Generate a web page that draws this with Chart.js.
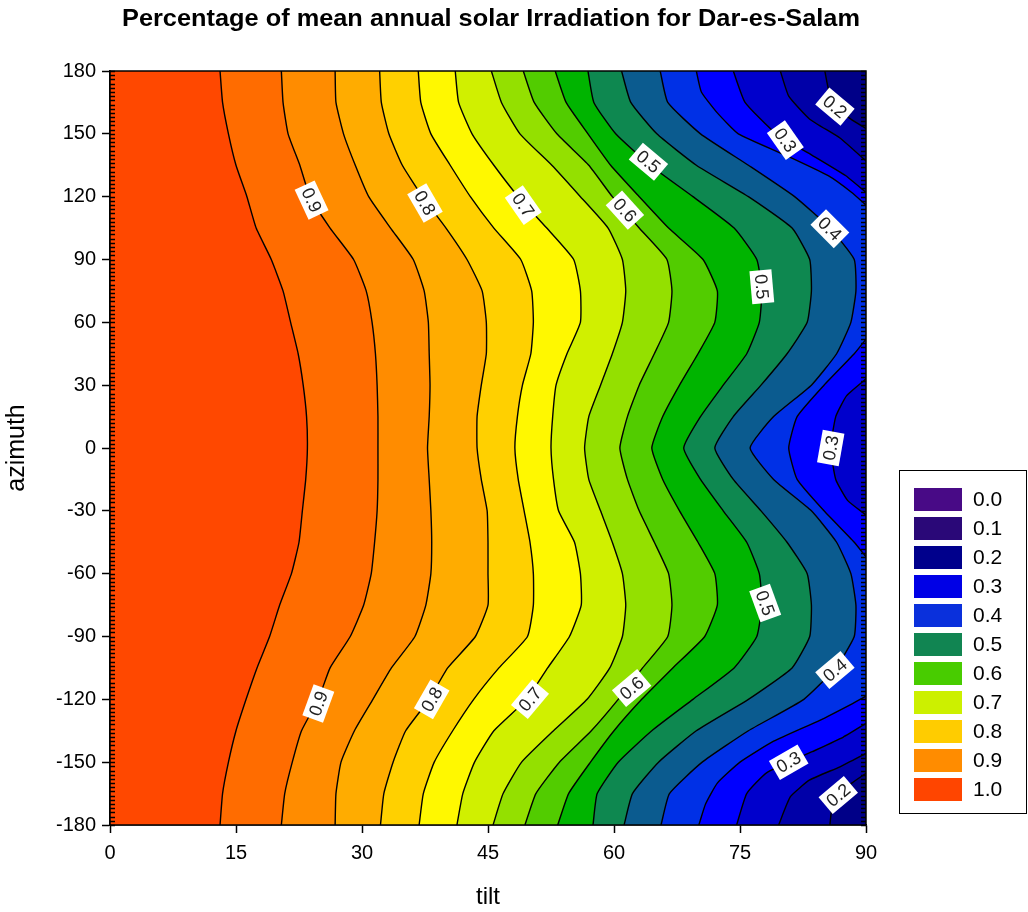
<!DOCTYPE html>
<html><head><meta charset="utf-8">
<script src="https://cdn.jsdelivr.net/npm/chart.js@4.4.1/dist/chart.umd.min.js"></script>
<style>html,body{margin:0;padding:0;background:#fff;}#wrap{width:1028px;height:912px;}</style>
</head><body><div id="wrap"><canvas id="c" width="1028" height="912"></canvas></div>
<script>
const FONT = "'Liberation Sans Narrow','Arial Narrow','Liberation Sans',Arial,sans-serif";
const chartTitle = 'Percentage of mean annual solar Irradiation for Dar-es-Salam';

// azimuth sample positions (deg) and tilt (deg) of each contour level
const azimuth = [180,165,150,135,120,105,90,75,60,45,30,15,0,-15,-30,-45,-60,-75,-90,-105,-120,-135,-150,-165,-180];
const tilt095 = [13.1,13.4,14.1,15.0,16.3,17.4,19.2,20.6,21.5,22.4,23.0,23.4,23.5,23.3,22.9,22.5,21.6,20.2,19.0,17.5,16.2,15.0,14.1,13.4,13.1];
const tilt090 = [20.4,20.6,21.2,22.6,23.8,26.2,29.0,30.5,31.2,31.6,31.8,31.9,31.9,31.9,31.8,31.5,31.1,30.2,28.6,26.2,24.8,22.8,21.7,20.8,20.4];
const tilt085 = [26.8,26.9,27.8,29.2,30.8,33.4,36.1,37.4,37.9,38.0,38.1,38.0,37.8,38.0,38.2,38.3,38.2,37.6,36.3,33.5,31.3,29.1,27.5,26.9,26.8];
const tilt080 = [32.1,32.3,33.2,34.8,37.2,40.0,42.5,44.3,44.8,44.8,44.2,43.7,43.7,44.2,44.9,45.0,45.0,45.0,43.5,40.2,38.0,35.2,33.7,32.6,32.2];
const tilt075 = [36.7,37.0,38.2,40.5,42.9,45.7,48.9,50.2,50.4,50.1,49.1,48.5,48.2,48.6,49.3,50.0,50.4,50.4,49.7,46.3,43.3,40.8,38.6,37.3,36.8];
const tilt070 = [41.1,41.5,43.1,45.7,48.6,52.0,55.2,56.0,56.0,54.4,53.1,52.7,52.5,52.8,53.4,55.3,56.0,56.1,54.7,52.1,49.6,45.7,43.4,42.0,41.3];
const tilt065 = [45.4,46.6,48.8,52.6,56.0,59.3,61.0,61.4,61.0,59.8,58.4,57.0,56.5,57.0,58.4,59.8,61.0,61.4,61.0,59.5,56.8,52.8,49.0,46.8,45.6];
const tilt060 = [49.2,50.5,53.2,57.0,59.8,63.0,66.3,66.9,66.5,64.8,63.0,61.6,60.7,61.6,63.0,64.8,66.5,66.9,66.4,63.4,60.5,57.3,53.5,50.7,49.4];
const tilt055 = [53.0,54.3,56.9,59.6,63.0,66.5,70.6,72.3,72.0,70.0,67.8,65.8,64.5,65.8,67.8,70.0,72.0,72.3,70.8,67.0,63.3,60.0,57.2,54.6,53.3];
const tilt050 = [56.9,57.6,60.2,64.3,69.4,74.3,77.0,77.6,77.3,75.8,73.0,70.3,68.3,70.3,73.0,75.8,77.3,77.6,77.0,74.3,69.4,64.5,60.5,58.0,57.5];
const tilt045 = [60.9,62.0,65.1,69.8,76.0,81.2,83.3,83.5,83.0,80.6,77.5,74.2,72.0,74.2,77.5,80.6,83.0,83.5,83.3,81.2,76.0,69.8,65.3,62.2,61.2];
const tilt040 = [65.5,66.4,70.3,76.0,81.5,85.7,88.6,88.8,88.2,86.5,83.5,79.0,76.2,79.0,83.5,86.5,88.2,88.8,88.6,86.4,82.6,76.0,70.5,66.6,65.6];
// contour pieces that leave through the right edge
const az035a = [180,170,160,150,140,130,122,116];
const tilt035a = [69.8,70.4,72.3,74.8,80.3,85.5,88.3,90];
const az035b = [52,45,30,15,0,-15,-30,-45,-52];
const tilt035b = [90,88.6,85.0,81.8,80.8,81.8,85.0,88.6,90];
const az035c = [-118.5,-122,-130,-140,-150,-160,-170,-180];
const tilt035c = [90,88.4,84.5,79.0,75.0,72.3,70.9,70.1];
const az030a = [180,165,150,140,130,122];
const tilt030a = [74.2,75.6,79.3,83.5,87.6,90];
const az030b = [33,25,15,0,-15,-25,-32];
const tilt030b = [90,87.7,86.4,85.8,86.4,87.8,90];
const az030c = [-131.5,-138,-145,-155,-165,-180];
const tilt030c = [90,87.3,83.6,78.2,75.8,74.6];
const az025a = [180,168,157,148,137];
const tilt025a = [79.8,80.8,83.3,86.9,90];
const az025c = [-145.8,-152.2,-158.5,-166.5,-180];
const tilt025c = [90,86.9,83.3,81.0,79.6];
const az020a = [180,170,163,157,152.5];
const tilt020a = [85.1,85.6,86.4,88.2,90];
const az020c = [-155.3,-160,-165.7,-170,-180];
const tilt020c = [90,88.3,86.7,86.0,85.7];

// contour labels
const labelText  = ['0.9','0.8','0.7','0.6','0.5','0.3','0.2','0.4','0.5','0.3','0.5','0.4','0.3','0.2','0.6','0.7','0.8','0.9'];
const labelTilt  = [24.0,37.5,49.2,61.3,64.1,80.4,86.3,85.7,77.6,85.8,78.0,86.3,80.8,86.7,62.1,50.0,38.3,24.8];
const labelAz    = [118.4,117,116,113.6,136.7,147,163,104.7,77,0,-74,-106,-150,-165.7,-114.6,-120,-120,-122];
const labelAngle = [65,60,55,48,40,55,40,45,85,-80,70,-40,-30,-40,-40,-50,-60,-70];

// legend
const legendLabels = ['0.0','0.1','0.2','0.3','0.4','0.5','0.6','0.7','0.8','0.9','1.0'];
const legendColors = ['#480A86','#2A0878','#00008C','#0000E6','#0A30DC','#118552','#48CC00','#CCF000','#FFCC00','#FF8C00','#FF4500'];

const topColor = '#FF4800';
const pieces = [
  [azimuth, tilt095, '#FF6C00'],
  [azimuth, tilt090, '#FF8C00'],
  [azimuth, tilt085, '#FFAC00'],
  [azimuth, tilt080, '#FFD000'],
  [azimuth, tilt075, '#FFF800'],
  [azimuth, tilt070, '#D0F000'],
  [azimuth, tilt065, '#94E000'],
  [azimuth, tilt060, '#52CC00'],
  [azimuth, tilt055, '#00B400'],
  [azimuth, tilt050, '#0E8850'],
  [azimuth, tilt045, '#0B5B8F'],
  [azimuth, tilt040, '#0030E6'],
  [az035a, tilt035a, '#0000FF'], [az035b, tilt035b, '#0000FF'], [az035c, tilt035c, '#0000FF'],
  [az030a, tilt030a, '#0000CC'], [az030b, tilt030b, '#0000CC'], [az030c, tilt030c, '#0000CC'],
  [az025a, tilt025a, '#0000A8'], [az025c, tilt025c, '#0000A8'],
  [az020a, tilt020a, '#000088'], [az020c, tilt020c, '#000088']
];
const N = pieces.length;
const datasets = pieces.map((p, i) => ({
  data: p[0].map((a, k) => ({x: p[1][k], y: a})),
  borderColor: '#000', borderWidth: 1.4, pointRadius: 0, tension: 0.15,
  fill: {value: 90}, backgroundColor: p[2], order: N - i
}));

const decor = {
  id: 'decor',
  beforeDatasetsDraw(chart) {
    const {ctx, chartArea: a} = chart;
    ctx.save(); ctx.fillStyle = topColor;
    ctx.fillRect(a.left, a.top, a.right - a.left, a.bottom - a.top); ctx.restore();
  },
  afterDatasetsDraw(chart) {
    const {ctx, chartArea: a, scales: {x, y}} = chart;
    ctx.save();
    // dense edge ticks
    ctx.strokeStyle = '#000'; ctx.lineWidth = 1.4;
    ctx.beginPath();
    for (let v = -180; v <= 180; v += 2) {
      const py = Math.round(y.getPixelForValue(v)) + 0.5;
      ctx.moveTo(a.left, py); ctx.lineTo(a.left + 5, py);
      ctx.moveTo(a.right - 5, py); ctx.lineTo(a.right, py);
    }
    ctx.stroke();
    ctx.lineWidth = 1.5;
    ctx.strokeRect(a.left, a.top, a.right - a.left, a.bottom - a.top);
    // contour labels
    ctx.font = '18px ' + FONT;
    ctx.textAlign = 'center'; ctx.textBaseline = 'middle';
    labelText.forEach((t, i) => {
      const px = x.getPixelForValue(labelTilt[i]);
      const py = y.getPixelForValue(labelAz[i]);
      const w = ctx.measureText(t).width + 8, h = 22;
      ctx.save(); ctx.translate(px, py); ctx.rotate(labelAngle[i] * Math.PI / 180);
      ctx.fillStyle = '#fff'; ctx.fillRect(-w / 2, -h / 2, w, h);
      ctx.fillStyle = '#222'; ctx.fillText(t, 0, 1);
      ctx.restore();
    });
    ctx.restore();
  },
  afterDraw(chart) {
    const {ctx, chartArea: a} = chart;
    ctx.save();
    // title
    ctx.font = 'bold 24px ' + FONT;
    const tw = ctx.measureText(chartTitle).width;
    ctx.translate(491, 26); ctx.scale(738 / tw, 1);
    ctx.fillStyle = '#000'; ctx.textAlign = 'center'; ctx.textBaseline = 'alphabetic';
    ctx.fillText(chartTitle, 0, 0);
    ctx.restore();
    // legend
    ctx.save();
    const lx = a.right + 33, ly = 470;
    ctx.strokeStyle = '#000'; ctx.lineWidth = 1;
    ctx.strokeRect(lx + 0.5, ly + 0.5, 127, 343);
    ctx.font = '21px ' + FONT; ctx.textBaseline = 'middle'; ctx.textAlign = 'left';
    legendLabels.forEach((t, i) => {
      const sy = ly + 18 + i * 29;
      ctx.fillStyle = legendColors[i]; ctx.fillRect(lx + 15, sy, 48, 23);
      ctx.fillStyle = '#000'; ctx.fillText(t, lx + 74, sy + 12);
    });
    ctx.restore();
  }
};

new Chart(document.getElementById('c'), {
  type: 'line',
  data: {datasets},
  options: {
    responsive: false, animation: false, indexAxis: 'y',
    layout: {padding: {top: 71, right: 162, left: 0, bottom: 0}},
    plugins: {legend: {display: false}, tooltip: {enabled: false}, title: {display: false}},
    scales: {
      x: {type: 'linear', position: 'bottom', min: 0, max: 90,
        ticks: {stepSize: 15, color: '#000', font: {family: FONT, size: 20}, padding: 8, maxRotation: 0},
        grid: {drawOnChartArea: false, color: '#000', tickLength: 8, tickWidth: 1.5},
        border: {color: '#000', width: 1.5},
        title: {display: true, text: 'tilt', color: '#000', font: {family: FONT, size: 24}, padding: {top: 0, bottom: 0}},
        afterFit(s) { s.height = 87; }},
      y: {type: 'linear', position: 'left', min: -180, max: 180,
        ticks: {stepSize: 30, color: '#000', font: {family: FONT, size: 20}, padding: 6},
        grid: {drawOnChartArea: false, color: '#000', tickLength: 8, tickWidth: 1.5},
        border: {color: '#000', width: 1.5},
        title: {display: true, text: 'azimuth', color: '#000', font: {family: FONT, size: 25}, padding: {top: 2, bottom: 0}},
        afterFit(s) { s.width = 110; }}
    }
  },
  plugins: [decor]
});
</script></body></html>
